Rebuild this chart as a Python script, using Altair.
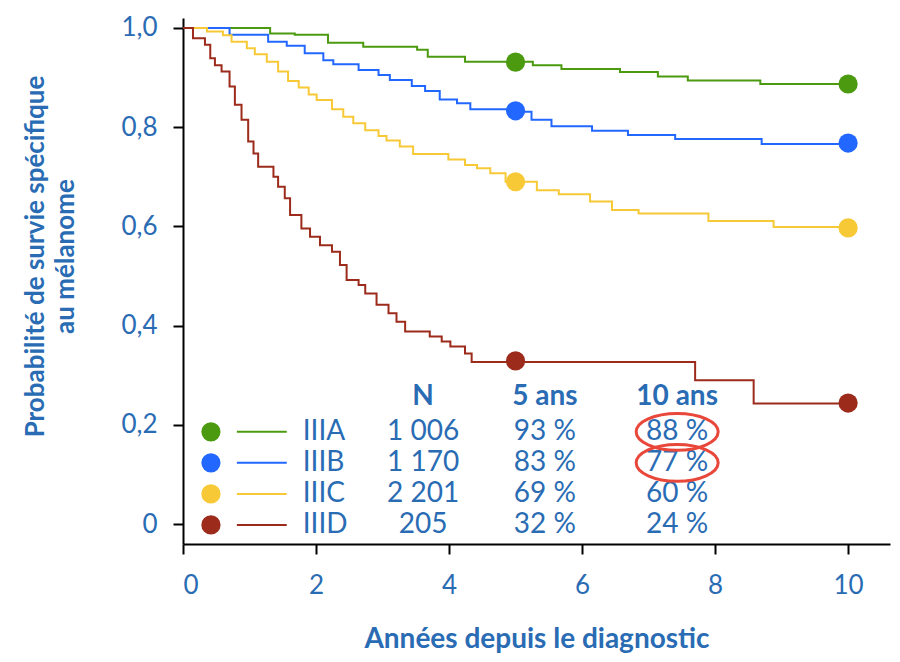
import altair as alt
import pandas as pd

# ---------------- data ----------------
stages = ["IIIA", "IIIB", "IIIC", "IIID"]
line_colors = ["#4b9a10", "#2267ff", "#f8c936", "#9c2b1c"]
n_patients = ["1 006", "1 170", "2 201", "205"]
surv5_label = ["93 %", "83 %", "69 %", "32 %"]
surv10_label = ["88 %", "77 %", "60 %", "24 %"]
circled_stages = ["IIIA", "IIIB"]
header_labels = ["N", "5 ans", "10 ans"]

time_A = [0, 1.31, 1.68, 2.18, 2.71, 3.52, 3.68, 4.24, 5.26, 5.69, 6.57, 7.14, 7.59, 8.68, 10]
surv_A = [1.0, 0.989, 0.986, 0.970, 0.962, 0.956, 0.942, 0.932, 0.925, 0.917, 0.911, 0.902, 0.894, 0.887, 0.887]

time_B = [0, 0.70, 1.28, 1.56, 1.83, 2.11, 2.26, 2.64, 2.94, 3.11, 3.44, 3.64, 3.86, 4.12, 4.32,
          4.90, 5.24, 5.54, 6.15, 6.69, 7.40, 8.70, 10]
surv_B = [1.0, 0.986, 0.972, 0.964, 0.949, 0.935, 0.927, 0.915, 0.905, 0.895, 0.883, 0.873, 0.856, 0.848, 0.836,
          0.831, 0.815, 0.802, 0.793, 0.784, 0.776, 0.766, 0.766]

time_C = [0, 0.36, 0.60, 0.73, 0.96, 1.08, 1.26, 1.43, 1.58, 1.74, 1.89, 2.01, 2.24, 2.41, 2.56, 2.74,
          2.94, 3.06, 3.26, 3.46, 3.99, 4.24, 4.42, 4.62, 4.85, 5.32, 5.65, 6.12, 6.45, 6.85, 7.90, 8.88, 10]
surv_C = [1.0, 0.993, 0.985, 0.972, 0.959, 0.947, 0.932, 0.912, 0.893, 0.880, 0.866, 0.855, 0.836, 0.821,
          0.808, 0.794, 0.782, 0.773, 0.761, 0.746, 0.735, 0.724, 0.717, 0.707, 0.690, 0.673, 0.665, 0.650,
          0.633, 0.626, 0.611, 0.599, 0.599]

time_D = [0, 0.15, 0.33, 0.41, 0.48, 0.58, 0.70, 0.78, 0.88, 0.98, 1.06, 1.13, 1.36, 1.43, 1.53, 1.61,
          1.78, 1.91, 2.06, 2.24, 2.36, 2.46, 2.64, 2.74, 2.91, 3.09, 3.21, 3.34, 3.71, 3.89, 4.02, 4.24,
          4.34, 7.70, 8.58, 10]
surv_D = [1.0, 0.979, 0.966, 0.939, 0.925, 0.912, 0.882, 0.845, 0.815, 0.771, 0.747, 0.720, 0.700, 0.680,
          0.657, 0.623, 0.596, 0.579, 0.562, 0.549, 0.522, 0.492, 0.482, 0.465, 0.442, 0.425, 0.408, 0.388,
          0.378, 0.368, 0.358, 0.344, 0.327, 0.290, 0.243, 0.243]

dot_times = [5, 10]
dot5_values = [0.931, 0.833, 0.690, 0.329]
dot10_values = [0.887, 0.768, 0.597, 0.244]

x_ticks = [0, 2, 4, 6, 8, 10]
y_ticks = [0, 0.2, 0.4, 0.6, 0.8, 1.0]

# ---------------- tables ----------------
times = [time_A, time_B, time_C, time_D]
survs = [surv_A, surv_B, surv_C, surv_D]
curve_rows = []
for st, ts, ss in zip(stages, times, survs):
    for t, s in zip(ts, ss):
        curve_rows.append({"stage": st, "t": t, "s": s})
curves = pd.DataFrame(curve_rows)

dot_rows = []
for st, v5, v10 in zip(stages, dot5_values, dot10_values):
    dot_rows.append({"stage": st, "t": dot_times[0], "s": v5})
    dot_rows.append({"stage": st, "t": dot_times[1], "s": v10})
dots = pd.DataFrame(dot_rows)

# legend table layout (in data units of the axes)
ROW0_Y = 0.186
ROW_STEP = 0.0625
HEADER_Y = 0.256
X_DOT, X_L1, X_L2, X_LAB, X_N, X_5, X_10 = 0.42, 0.81, 1.56, 1.80, 3.61, 5.44, 7.43

table = pd.DataFrame({
    "stage": stages,
    "n": n_patients,
    "s5": surv5_label,
    "s10": surv10_label,
    "y": [ROW0_Y - ROW_STEP * i for i in range(len(stages))],
})
table["circled"] = table["stage"].isin(circled_stages)
headers = pd.DataFrame({"label": header_labels, "x": [X_N, X_5, X_10], "y": [HEADER_Y] * 3})

BLUE = "#2a6cb4"
FONT = "Lato"

xs = alt.Scale(domain=[0, 10.63], nice=False, zero=False)
ys = alt.Scale(domain=[-0.04, 1.02], nice=False, zero=False)
col = alt.Color("stage:N", scale=alt.Scale(domain=stages, range=line_colors), legend=None)

x_axis = alt.Axis(values=x_ticks, format="d", title="Années depuis le diagnostic", tickSize=10,
                  labelPadding=18, titleY=103, titleBaseline="alphabetic", titleFontSize=28)
y_axis = alt.Axis(values=y_ticks, tickSize=10, labelPadding=16,
                  labelExpr="datum.value == 0 ? '0' : replace(format(datum.value, '.1f'), '.', ',')",
                  title=["Probabilité de survie spécifique", "au mélanome"],
                  titleX=-140, titleY=238, titleBaseline="alphabetic", titleLineHeight=30,
                  titleFontSize=26)

base_x = alt.X("t:Q", scale=xs, axis=x_axis)
base_y = alt.Y("s:Q", scale=ys, axis=y_axis)

lines = alt.Chart(curves).mark_line(interpolate="step-after", strokeWidth=2).encode(
    x=base_x, y=base_y, color=col, detail="stage:N")

points = alt.Chart(dots).mark_circle(size=370, opacity=1).encode(
    x=alt.X("t:Q", scale=xs), y=alt.Y("s:Q", scale=ys), color=col)

leg_dots = alt.Chart(table).mark_circle(size=370, opacity=1).encode(
    x=alt.datum(X_DOT), y=alt.Y("y:Q", scale=ys), color=col)

leg_lines = alt.Chart(table).mark_rule(strokeWidth=2).encode(
    x=alt.datum(X_L1), x2=alt.datum(X_L2), y=alt.Y("y:Q", scale=ys), color=col)

txt = dict(font=FONT, fontSize=28, color=BLUE, baseline="middle")
lab = alt.Chart(table).mark_text(align="left", **txt).encode(
    x=alt.datum(X_LAB), y=alt.Y("y:Q", scale=ys), text="stage:N")
ncol = alt.Chart(table).mark_text(align="center", **txt).encode(
    x=alt.datum(X_N), y=alt.Y("y:Q", scale=ys), text="n:N")
c5 = alt.Chart(table).mark_text(align="center", **txt).encode(
    x=alt.datum(X_5), y=alt.Y("y:Q", scale=ys), text="s5:N")
c10 = alt.Chart(table).mark_text(align="center", **txt).encode(
    x=alt.datum(X_10), y=alt.Y("y:Q", scale=ys), text="s10:N")
head = alt.Chart(headers).mark_text(align="center", fontWeight="bold", **txt).encode(
    x=alt.X("x:Q", scale=xs), y=alt.Y("y:Q", scale=ys), text="label:N")

ellipse_path = "M -1 0 A 1 0.45 0 1 0 1 0 A 1 0.45 0 1 0 -1 0 Z"
ell = alt.Chart(table).transform_filter("datum.circled").mark_point(
    shape=ellipse_path, size=6724, filled=False, stroke="#e8473a", strokeWidth=3, opacity=1).encode(
    x=alt.datum(X_10), y=alt.Y("y:Q", scale=ys))

chart = alt.layer(lines, points, leg_lines, leg_dots, lab, ncol, c5, c10, head, ell).properties(
    width=707, height=526,
    autosize=alt.AutoSizeParams(type="none"),
    padding={"left": 175, "top": 10, "right": 2, "bottom": 116},
).configure_view(stroke=None).configure_axis(
    domainColor="black", domainWidth=2, tickColor="black", tickWidth=2, grid=False,
    labelFont=FONT, labelFontSize=26, labelColor=BLUE,
    titleFont=FONT, titleFontSize=24, titleFontWeight="bold", titleColor=BLUE,
)

chart.save("out.html", embed_options={"renderer": "svg", "actions": False})
